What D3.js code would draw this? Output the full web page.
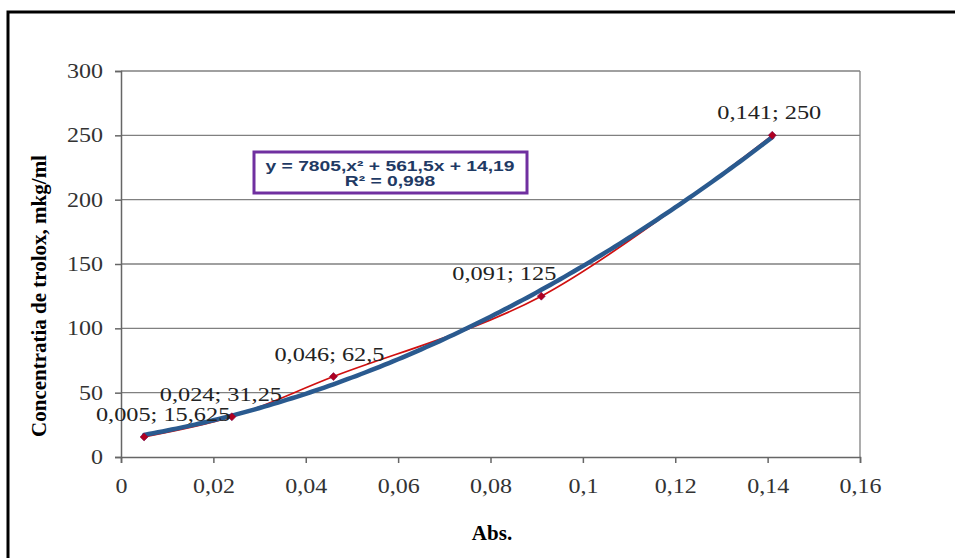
<!DOCTYPE html>
<html>
<head>
<meta charset="utf-8">
<script src="https://cdn.jsdelivr.net/npm/d3@7"></script>
<style>
  html, body { margin: 0; padding: 0; background: #fff; }
  svg { display: block; }
</style>
</head>
<body>
<div id="chart"></div>
<script>
(function () {
  "use strict";

  // measured points (Abs., concentration)
  const absValues = [0.005, 0.024, 0.046, 0.091, 0.141];
  const concValues = [15.625, 31.25, 62.5, 125, 250];
  const pointLabels = ["0,005; 15,625", "0,024; 31,25", "0,046; 62,5", "0,091; 125", "0,141; 250"];
  const labelShift = [19, -11, -4, -37, -3];

  // polynomial trendline, as printed on the chart: a*x^2 + b*x + c
  const trendCoef = [7805, 561.5, 14.19];
  const trendText = ["y = 7805,x\u00b2 + 561,5x + 14,19", "R\u00b2 = 0,998"];

  const xTicks = [0, 0.02, 0.04, 0.06, 0.08, 0.1, 0.12, 0.14, 0.16];
  const yTicks = [0, 50, 100, 150, 200, 250, 300];

  const width = 955;
  const height = 558;
  const plot = { left: 121, right: 860, top: 71, bottom: 457 };
  const stretch = 1.2; // the original text is a bit wider than the font

  const svg = d3.select("#chart").append("svg").attr("width", width).attr("height", height);

  // outer frame of the chart object
  svg.append("rect")
    .attr("x", 8).attr("y", 12)
    .attr("width", 960).attr("height", 560)
    .attr("fill", "none").attr("stroke", "#000").attr("stroke-width", 3);

  const x = d3.scaleLinear().domain([0, 0.16]).range([plot.left, plot.right]);
  const y = d3.scaleLinear().domain([0, 300]).range([plot.bottom, plot.top]);
  const fmt = function (d) { return String(+d.toFixed(3)).replace(".", ","); };

  // gridlines
  svg.append("g")
    .selectAll("line")
    .data(yTicks.slice(1))
    .enter()
    .append("line")
    .attr("x1", plot.left).attr("x2", plot.right)
    .attr("y1", function (d) { return y(d); })
    .attr("y2", function (d) { return y(d); })
    .attr("stroke", "#808080").attr("stroke-width", 1.3);

  svg.append("line")
    .attr("x1", plot.right).attr("x2", plot.right)
    .attr("y1", plot.top).attr("y2", plot.bottom)
    .attr("stroke", "#808080").attr("stroke-width", 1.3);

  svg.append("g")
    .attr("transform", "translate(0," + plot.bottom + ")")
    .call(d3.axisBottom(x).tickValues(xTicks).tickFormat(fmt).tickSize(6).tickPadding(16))
    .call(function (g) {
      g.selectAll("text")
        .attr("fill", "#333").attr("font-size", 20).attr("font-family", "'Liberation Serif', serif")
        .attr("transform", "scale(" + stretch + ",1)");
      g.selectAll("path,line").attr("stroke", "#666").attr("stroke-width", 1.5);
    });

  svg.append("g")
    .attr("transform", "translate(" + plot.left + ",0)")
    .call(d3.axisLeft(y).tickValues(yTicks).tickSize(6).tickPadding(9))
    .call(function (g) {
      g.selectAll("text")
        .attr("fill", "#333").attr("font-size", 20).attr("font-family", "'Liberation Serif', serif")
        .attr("transform", "scale(" + stretch + ",1)");
      g.selectAll("path,line").attr("stroke", "#666").attr("stroke-width", 1.5);
    });

  // axis titles
  svg.append("text")
    .attr("x", 492).attr("y", 540)
    .attr("text-anchor", "middle")
    .attr("font-family", "'Liberation Serif', serif").attr("font-weight", "bold").attr("font-size", 21)
    .text("Abs.");

  svg.append("text")
    .attr("transform", "translate(46,296) rotate(-90)")
    .attr("text-anchor", "middle")
    .attr("font-family", "'Liberation Serif', serif").attr("font-weight", "bold").attr("font-size", 21)
    .text("Concentratia de trolox, mkg/ml");

  const pts = absValues.map(function (v, i) { return [v, concValues[i]]; });

  // smoothed data line
  svg.append("path")
    .datum(pts)
    .attr("fill", "none")
    .attr("stroke", "#d01010").attr("stroke-width", 1.7)
    .attr("d", d3.line()
      .x(function (d) { return x(d[0]); })
      .y(function (d) { return y(d[1]); })
      .curve(d3.curveCatmullRom.alpha(0.5)));

  // trendline
  const xs = d3.range(absValues[0], absValues[absValues.length - 1] + 1e-9, 0.001);
  svg.append("path")
    .datum(xs)
    .attr("fill", "none")
    .attr("stroke", "#2a5a8f").attr("stroke-width", 4.5).attr("stroke-linecap", "round")
    .attr("d", d3.line()
      .x(function (d) { return x(d); })
      .y(function (d) { return y(trendCoef[0] * d * d + trendCoef[1] * d + trendCoef[2]); }));

  // markers
  svg.append("g")
    .selectAll("path")
    .data(pts)
    .enter()
    .append("path")
    .attr("transform", function (d) { return "translate(" + x(d[0]) + "," + y(d[1]) + ") rotate(45)"; })
    .attr("d", d3.symbol().type(d3.symbolSquare).size(32))
    .attr("fill", "#b00020").attr("stroke", "#7a1050").attr("stroke-width", 0.6);

  // data labels
  svg.append("g")
    .selectAll("text")
    .data(pts)
    .enter()
    .append("text")
    .attr("transform", function (d, i) {
      return "translate(" + (x(d[0]) + labelShift[i]) + "," + (y(d[1]) - 16) + ") scale(1.28,1)";
    })
    .attr("text-anchor", "middle")
    .attr("font-family", "'Liberation Serif', serif").attr("font-size", 19)
    .attr("fill", "#222")
    .text(function (d, i) { return pointLabels[i]; });

  // equation box
  svg.append("rect")
    .attr("x", 254).attr("y", 152)
    .attr("width", 273).attr("height", 41)
    .attr("fill", "#fff").attr("stroke", "#7030a0").attr("stroke-width", 3);

  svg.append("g")
    .selectAll("text")
    .data(trendText)
    .enter()
    .append("text")
    .attr("transform", function (d, i) { return "translate(390," + (171 + i * 15) + ") scale(1.33,1)"; })
    .attr("text-anchor", "middle")
    .attr("font-family", "'Liberation Sans', Arial, sans-serif").attr("font-weight", "bold").attr("font-size", 14.5)
    .attr("fill", "#1f3a64")
    .text(function (d) { return d; });
})();
</script>
</body>
</html>
